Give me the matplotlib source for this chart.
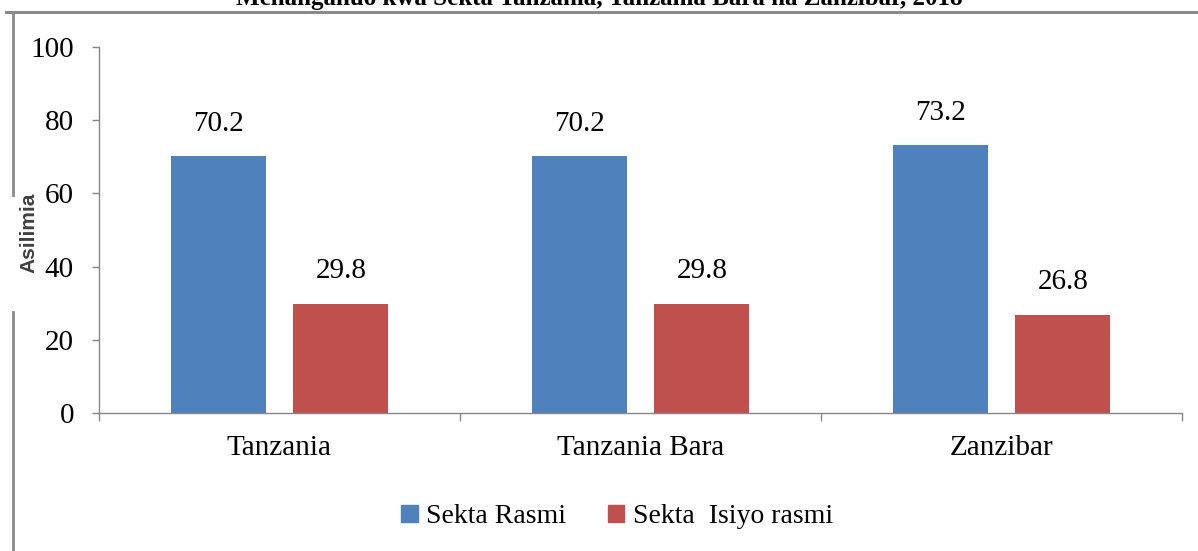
import matplotlib
matplotlib.use("Agg")
import matplotlib.pyplot as plt
from matplotlib.lines import Line2D
from matplotlib.patches import Patch
import numpy as np

categories = ["Tanzania", "Tanzania Bara", "Zanzibar"]
rasmi = [70.2, 70.2, 73.2]
isiyo_rasmi = [29.8, 29.8, 26.8]
series_names = ["Sekta Rasmi", "Sekta  Isiyo rasmi"]
title = "Mchanganuo kwa Sekta Tanzania, Tanzania Bara na Zanzibar, 2018"
yticks = [0, 20, 40, 60, 80, 100]

blue = "#4F81BD"
red = "#C0504D"
gray = "#868686"
serif = "Liberation Serif"

fig = plt.figure(figsize=(11.98, 5.51), dpi=100)
ax = fig.add_axes([0.0826, 0.2505, 0.904, 0.6642])

x = np.arange(len(categories))
w = 0.263
off = 0.17
b1 = ax.bar(x - off, rasmi, w, color=blue, label=series_names[0])
b2 = ax.bar(x + off, isiyo_rasmi, w, color=red, label=series_names[1])

for bars, vals in ((b1, rasmi), (b2, isiyo_rasmi)):
    for r, v in zip(bars, vals):
        ax.annotate(f"{v:.1f}", (r.get_x() + r.get_width() / 2, v),
                    xytext=(0, 14), textcoords="offset points",
                    ha="center", va="bottom", fontsize=21, family=serif)

ax.set_xlim(-0.5, len(categories) - 0.5)
ax.set_ylim(0, 100)
ax.set_yticks(yticks)
ax.set_yticklabels([str(t) for t in yticks], fontsize=21, family=serif)
ax.set_xticks(x)
ax.set_xticklabels(categories, fontsize=21, family=serif)
ax.set_xticks(np.arange(-0.5, len(categories)), minor=True)
ax.tick_params(axis="x", which="major", length=0, pad=16)
ax.tick_params(axis="x", which="minor", length=6, color=gray, width=1, direction="out")
ax.tick_params(axis="y", length=5, color=gray, width=1, pad=13)
for s in ("top", "right"):
    ax.spines[s].set_visible(False)
for s in ("left", "bottom"):
    ax.spines[s].set_color(gray)
    ax.spines[s].set_linewidth(1)

fig.text(0.0242, 0.577, "Asilimia", rotation=90, ha="center", va="center",
         fontsize=15, fontweight="bold", color="#404040", family="Liberation Sans")

# title, cut off at the top edge as in the reference
fig.text(0.5, 1.003, title, ha="center", va="center", fontsize=18,
         fontweight="bold", family=serif)

# outer frame lines
fig.add_artist(Line2D([0.005, 1.0], [1 - 12 / 551] * 2, color="#8a8a8a", lw=2.2,
                      transform=fig.transFigure))
fig.add_artist(Line2D([0.0109] * 2, [1 - 12 / 551, 1 - 195 / 551], color="#8a8a8a", lw=2,
                      transform=fig.transFigure))
fig.add_artist(Line2D([0.0109] * 2, [1 - 312 / 551, 0.0], color="#8a8a8a", lw=2,
                      transform=fig.transFigure))

handles = [Patch(color=blue), Patch(color=red)]
fig.legend(handles, series_names, loc="center", bbox_to_anchor=(0.515, 0.062),
           ncol=2, frameon=False, handlelength=0.6, handleheight=0.6,
           handletextpad=0.3, columnspacing=1.5, prop={"family": serif, "size": 20})

fig.savefig("out.png", dpi=100)
